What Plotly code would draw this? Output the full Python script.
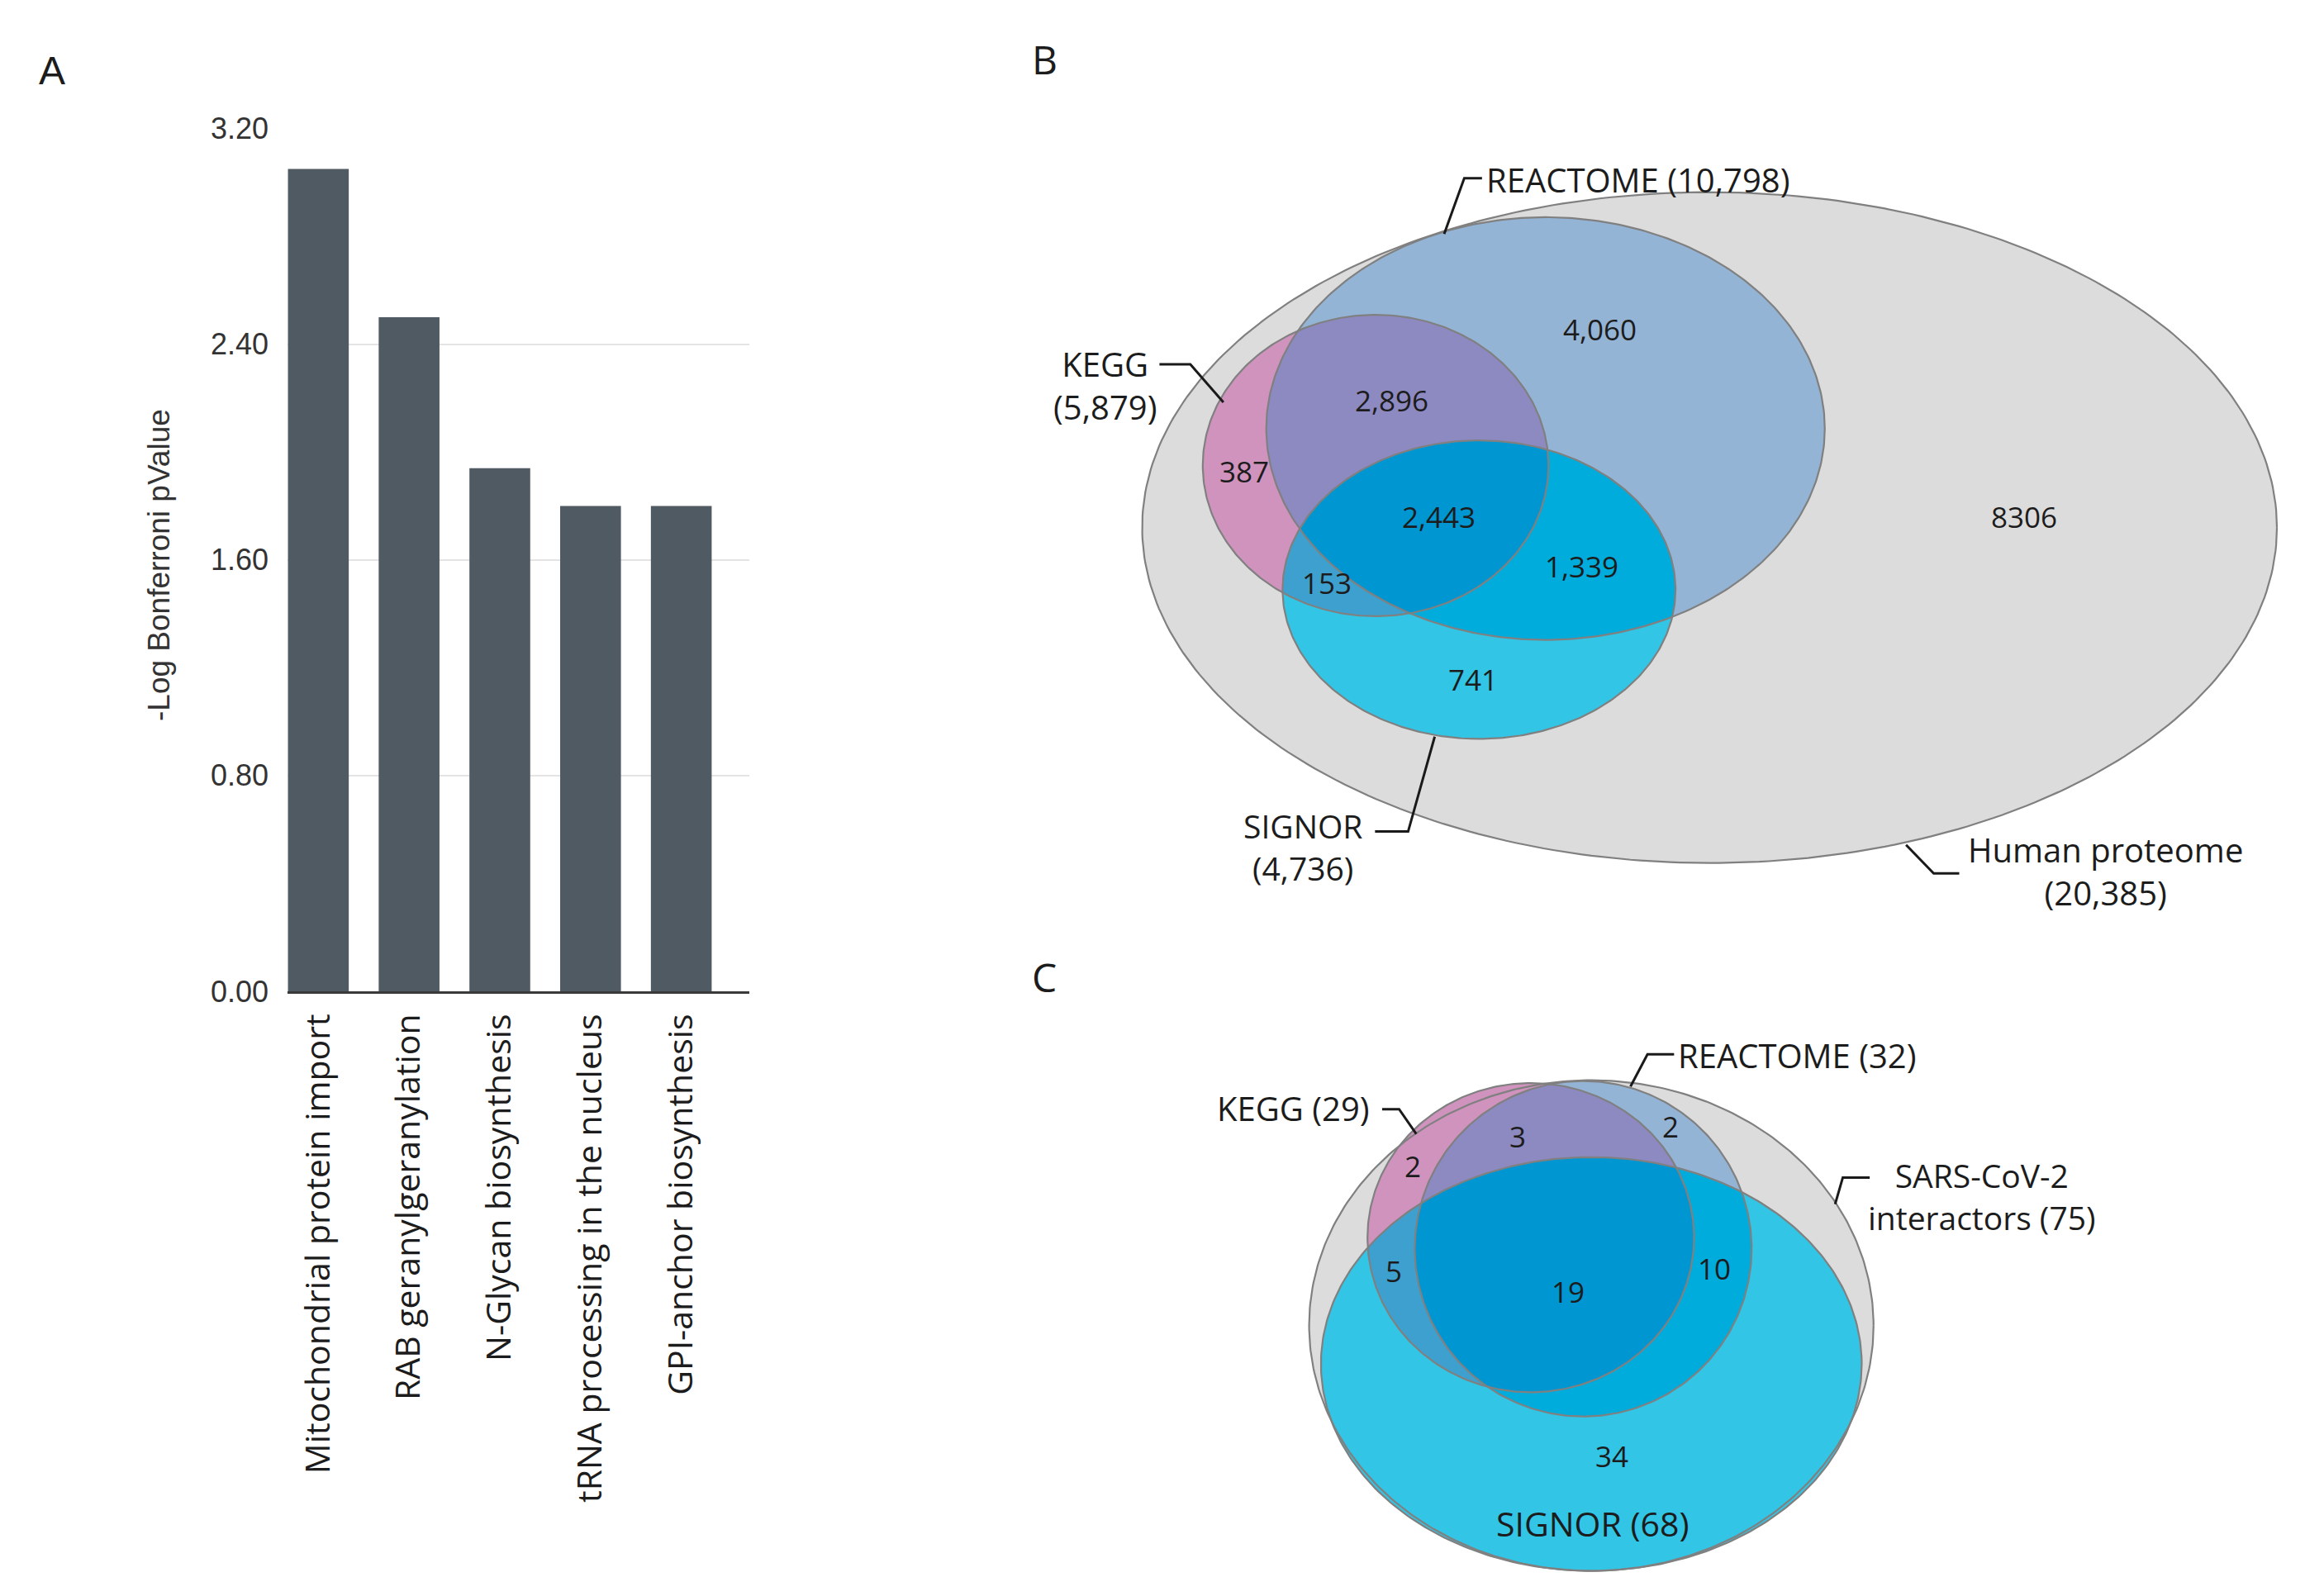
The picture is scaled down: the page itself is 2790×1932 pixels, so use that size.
import numpy as np
import plotly.graph_objects as go

# ---------------- DATA ----------------
# Panel A: enrichment bar chart
categories = [
    "Mitochondrial protein import",
    "RAB geranylgeranylation",
    "N-Glycan biosynthesis",
    "tRNA processing in the nucleus",
    "GPI-anchor biosynthesis",
]
neg_log_p = [3.05, 2.50, 1.94, 1.80, 1.80]
y_ticks = [0.00, 0.80, 1.60, 2.40, 3.20]
y_title = "-Log Bonferroni pValue"

# Panel B: Venn of pathway databases vs human proteome
b_set_names = ["REACTOME", "KEGG", "SIGNOR", "Human proteome"]
b_set_totals = ["10,798", "5,879", "4,736", "20,385"]
b_region_keys = ["K", "KR", "R", "KRS", "RS", "KS", "S", "O"]
b_region_counts = ["387", "2,896", "4,060", "2,443", "1,339", "153", "741", "8306"]

# Panel C: Venn of SARS-CoV-2 interactors
c_set_names = ["REACTOME", "KEGG", "SIGNOR", "SARS-CoV-2", "interactors"]
c_set_totals = ["32", "29", "68", "75"]
c_region_keys = ["K", "KR", "R", "KS", "KRS", "RS", "S"]
c_region_counts = ["2", "3", "2", "5", "19", "10", "34"]

panel_letters = ["A", "B", "C"]

# ---------------- LAYOUT / GEOMETRY (overlay coords: 1560 x 1080 frame) ----------------
B_ELL = {"O": (1157, 357, 384, 227), "R": (1046, 290, 189, 143),
         "K": (931, 315, 117, 102), "S": (1001, 399, 133, 101)}
C_ELL = {"O": (1077, 897, 191, 166), "R": (1071.5, 845, 114, 113.5),
         "K": (1036, 837.5, 110.5, 104.6), "S": (1077, 923, 183, 140)}

B_REGION_POS = {"K": (842, 319), "KR": (942, 271), "R": (1083, 222.6), "KRS": (974, 349.4),
                "RS": (1070.5, 383), "KS": (898, 394.3), "S": (997, 460), "O": (1370, 349.4)}
C_REGION_POS = {"K": (956, 789), "KR": (1027, 769), "R": (1130.5, 762), "KS": (943, 860),
                "KRS": (1061, 874), "RS": (1160, 858.4), "S": (1091, 985.5)}

COL = {"O": "#dcdcdc", "R": "#94b4d6", "K": "#cf93be", "KR": "#8d89c1", "S": "#32c5e5",
       "RS": "#00acdc", "KS": "#3ea0ce", "KRS": "#0096d1"}
OUTLINE = "#808080"
TXT = "#1c1c1c"
VFONT = "Open Sans"

W, H = 2790, 1932


def ellipse_pts(cx, cy, rx, ry, n=360):
    t = np.linspace(0, 2 * np.pi, n, endpoint=False)
    return list(zip(cx + rx * np.cos(t), cy + ry * np.sin(t)))


def _inside(p, a, b):
    return (b[0] - a[0]) * (p[1] - a[1]) - (b[1] - a[1]) * (p[0] - a[0]) >= 0


def _inter(p, q, a, b):
    x1, y1 = p; x2, y2 = q; x3, y3 = a; x4, y4 = b
    den = (x1 - x2) * (y3 - y4) - (y1 - y2) * (x3 - x4)
    t = ((x1 - x3) * (y3 - y4) - (y1 - y3) * (x3 - x4)) / den
    return (x1 + t * (x2 - x1), y1 + t * (y2 - y1))


def clip(subject, clipper):
    out = subject
    for i in range(len(clipper)):
        a = clipper[i]; b = clipper[(i + 1) % len(clipper)]
        inp = out; out = []
        if not inp:
            break
        s = inp[-1]
        for e in inp:
            if _inside(e, a, b):
                if not _inside(s, a, b):
                    out.append(_inter(s, e, a, b))
                out.append(e)
            elif _inside(s, a, b):
                out.append(_inter(s, e, a, b))
            s = e
    return out


fig = go.Figure()

# ---------------- Panel A ----------------
fig.add_trace(go.Bar(
    x=categories, y=neg_log_p, width=0.67, marker=dict(color="#505a63", line=dict(width=0)),
    xaxis="x", yaxis="y", showlegend=False, hoverinfo="skip"))


def add_poly(pts, fill, xa="x2", ya="y2"):
    xs = [p[0] for p in pts] + [pts[0][0]]
    ys = [p[1] for p in pts] + [pts[0][1]]
    fig.add_trace(go.Scatter(x=xs, y=ys, mode="lines", fill="toself", fillcolor=fill,
                             line=dict(width=0, color="rgba(0,0,0,0)"),
                             xaxis=xa, yaxis=ya, showlegend=False, hoverinfo="skip"))


def add_line(pts, color, width):
    fig.add_trace(go.Scatter(x=[p[0] for p in pts], y=[p[1] for p in pts], mode="lines",
                             line=dict(color=color, width=width),
                             xaxis="x2", yaxis="y2", showlegend=False, hoverinfo="skip"))


def draw_venn(ell):
    O = ellipse_pts(*ell["O"]); R = ellipse_pts(*ell["R"])
    K = ellipse_pts(*ell["K"]); S = ellipse_pts(*ell["S"])
    add_poly(O, COL["O"])
    add_poly(R, COL["R"])
    add_poly(K, COL["K"])
    add_poly(clip(K, R), COL["KR"])
    add_poly(S, COL["S"])
    add_poly(clip(S, R), COL["RS"])
    add_poly(clip(S, K), COL["KS"])
    add_poly(clip(clip(S, K), R), COL["KRS"])
    for poly in (O, R, K, S):
        add_line(poly + [poly[0]], OUTLINE, 2.2)


draw_venn(B_ELL)
draw_venn(C_ELL)

LEAD = "#1a1a1a"
LW = 3
# Panel B leaders
add_line([(977.4, 158.3), (991, 120.6), (1003, 120.6)], LEAD, LW)
add_line([(784.7, 246.5), (805.6, 246.5), (828, 272.2)], LEAD, LW)
add_line([(930.6, 562.7), (953, 562.7), (971, 498.5)], LEAD, LW)
add_line([(1290, 571.7), (1308.7, 591), (1326, 591)], LEAD, LW)
# Panel C leaders
add_line([(1103.5, 735.2), (1115, 713.4), (1133, 713.4)], LEAD, LW)
add_line([(935.4, 750.6), (946.9, 750.6), (958.5, 767.3)], LEAD, LW)
add_line([(1242, 814.8), (1247.2, 796.8), (1265.4, 796.8)], LEAD, LW)

ann = []


def txt(x, y, s, size=40, xanchor="center", font=VFONT, color=TXT, xref="x2", yref="y2", angle=0):
    ann.append(dict(x=x, y=y, xref=xref, yref=yref, text=s, showarrow=False,
                    xanchor=xanchor, yanchor="middle", textangle=angle, align="center",
                    font=dict(family=font, size=size, color=color)))


# Region counts
for k, c in zip(b_region_keys, b_region_counts):
    txt(*B_REGION_POS[k], c, size=35)
for k, c in zip(c_region_keys, c_region_counts):
    txt(*C_REGION_POS[k], c, size=35)

# Panel B set labels
txt(1005, 121.5, f"{b_set_names[0]} ({b_set_totals[0]})", xanchor="left")
txt(748, 261, f"{b_set_names[1]}<br>({b_set_totals[1]})")
txt(882, 573, f"{b_set_names[2]}<br>({b_set_totals[2]})", size=39)
txt(1425, 589.5, f"{b_set_names[3]}<br>({b_set_totals[3]})", size=40)

# Panel C set labels
txt(1134.5, 714, f"{c_set_names[0]} ({c_set_totals[0]})", xanchor="left")
txt(928, 750, f"{c_set_names[1]} ({c_set_totals[1]})", xanchor="right")
txt(1078, 1031, f"{c_set_names[2]} ({c_set_totals[2]})", size=41)
txt(1341, 809.5, f"{c_set_names[3]}<br>{c_set_names[4]} ({c_set_totals[3]})", size=39)

# Panel letters
txt(35, 48, panel_letters[0], size=48, font="Liberation Sans, Arial")
txt(707, 40, panel_letters[1], size=48)
txt(707, 661, panel_letters[2], size=48)

# Y axis title for panel A
ann.append(dict(x=192 / W, y=1 - 684 / H, xref="paper", yref="paper", text=y_title,
                showarrow=False, textangle=-90, xanchor="center", yanchor="middle",
                font=dict(family="Liberation Sans, Arial", size=37, color="#333333")))

fig.update_layout(
    template="none",
    width=W, height=H, margin=dict(l=0, r=0, t=0, b=0, pad=0, autoexpand=False),
    paper_bgcolor="white", plot_bgcolor="rgba(0,0,0,0)",
    showlegend=False,
    annotations=ann,
    xaxis=dict(domain=[348 / W, 907 / W], range=[-0.34, 4.75], anchor="y", automargin=False,
               tickangle=-90, ticks="", showgrid=False, zeroline=False,
               showline=True, linecolor="#3a3a3a", linewidth=3,
               tickfont=dict(family="Open Sans", size=41, color=TXT),
               ticklabelstandoff=8),
    yaxis=dict(domain=[1 - 1200 / H, 1 - 155.5 / H], range=[0, 3.2], anchor="x", automargin=False,
               tickvals=y_ticks, tickformat=".2f", ticks="", showline=False,
               showgrid=True, gridcolor="#e4e4e4", gridwidth=2, zeroline=False,
               tickfont=dict(family="Liberation Sans, Arial", size=36, color="#333333"),
               ticklabelstandoff=22),
    xaxis2=dict(domain=[0, 1], range=[0, 1560], anchor="y2", visible=False, fixedrange=True,
                automargin=False),
    yaxis2=dict(domain=[0, 1], range=[1080, 0], anchor="x2", visible=False, fixedrange=True,
                automargin=False),
)

fig.write_html("out.html", post_script="document.body.style.margin='0';",
               config={"displayModeBar": False})
